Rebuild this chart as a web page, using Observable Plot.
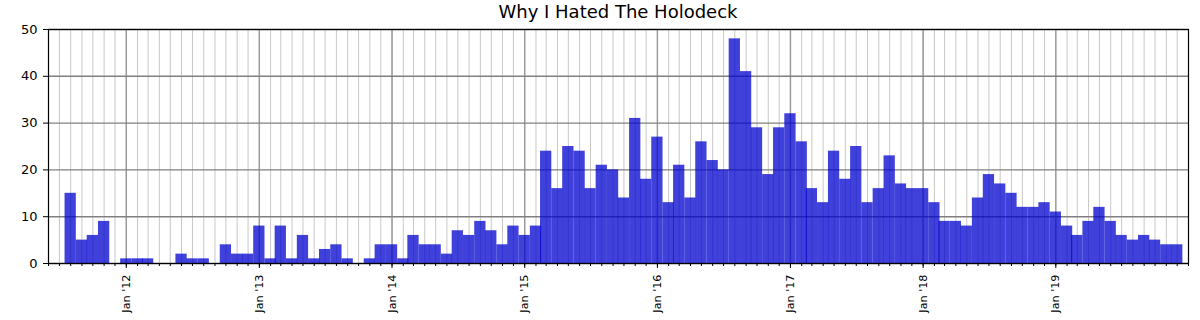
<!DOCTYPE html>
<html>
<head>
<meta charset="utf-8">
<script src="https://cdn.jsdelivr.net/npm/d3@7"></script>
<script src="https://cdn.jsdelivr.net/npm/@observablehq/plot@0.6"></script>
<style>
  html, body { margin: 0; padding: 0; background: white; }
  #wrap { position: relative; width: 1200px; height: 320px; }
  #title { position: absolute; left: 48px; width: 1140px; top: 0; height: 24px; text-align: center;
           font-family: "DejaVu Sans", sans-serif; font-size: 18px; line-height: 24px; color: black; }
  #chart svg { display: block; }
</style>
</head>
<body>
<div id="wrap">
<div id="chart"></div>
<div id="title">Why I Hated The Holodeck</div>
</div>
<script>
const months = [
  "2011-08","2011-09","2011-10","2011-11","2011-12",
  "2012-01","2012-02","2012-03","2012-04","2012-05","2012-06","2012-07","2012-08","2012-09","2012-10","2012-11","2012-12",
  "2013-01","2013-02","2013-03","2013-04","2013-05","2013-06","2013-07","2013-08","2013-09","2013-10","2013-11","2013-12",
  "2014-01","2014-02","2014-03","2014-04","2014-05","2014-06","2014-07","2014-08","2014-09","2014-10","2014-11","2014-12",
  "2015-01","2015-02","2015-03","2015-04","2015-05","2015-06","2015-07","2015-08","2015-09","2015-10","2015-11","2015-12",
  "2016-01","2016-02","2016-03","2016-04","2016-05","2016-06","2016-07","2016-08","2016-09","2016-10","2016-11","2016-12",
  "2017-01","2017-02","2017-03","2017-04","2017-05","2017-06","2017-07","2017-08","2017-09","2017-10","2017-11","2017-12",
  "2018-01","2018-02","2018-03","2018-04","2018-05","2018-06","2018-07","2018-08","2018-09","2018-10","2018-11","2018-12",
  "2019-01","2019-02","2019-03","2019-04","2019-05","2019-06","2019-07","2019-08","2019-09","2019-10","2019-11","2019-12"
];
const counts = [
  15, 5, 6, 9, 0,
  1, 1, 1, 0, 0, 2, 1, 1, 0, 4, 2, 2,
  8, 1, 8, 1, 6, 1, 3, 4, 1, 0, 1, 4,
  4, 1, 6, 4, 4, 2, 7, 6, 9, 7, 4, 8,
  6, 8, 24, 16, 25, 24, 16, 21, 20, 14, 31, 18,
  27, 13, 21, 14, 26, 22, 20, 48, 41, 29, 19, 29,
  32, 26, 16, 13, 24, 18, 25, 13, 16, 23, 17, 16,
  16, 13, 9, 9, 8, 14, 19, 17, 15, 12, 12, 13,
  11, 8, 6, 9, 12, 9, 6, 5, 6, 5, 4, 4
];
const xDomain = ["2011-06-01", "2020-01-01"];
const xTickDates = ["2012-01-01","2013-01-01","2014-01-01","2015-01-01","2016-01-01","2017-01-01","2018-01-01","2019-01-01"];
const xTickLabels = ["Jan '12","Jan '13","Jan '14","Jan '15","Jan '16","Jan '17","Jan '18","Jan '19"];
const yTicks = [0, 10, 20, 30, 40, 50];

const parseMonth = d3.utcParse("%Y-%m");
const parseDay = d3.utcParse("%Y-%m-%d");
const data = months.map((m, i) => ({date: parseMonth(m), count: counts[i]}));
const domain = xDomain.map(parseDay);
const majorDates = xTickDates.map(parseDay);
const labelOf = new Map(majorDates.map((d, i) => [+d, xTickLabels[i]]));
const minorMonths = d3.utcMonth.range(domain[0], d3.utcDay.offset(domain[1], 1));

const chart = Plot.plot({
  width: 1200,
  height: 320,
  marginLeft: 48,
  marginRight: 12,
  marginTop: 29,
  marginBottom: 57,
  style: {fontFamily: "DejaVu Sans, sans-serif", fontSize: "13px", background: "white", color: "black"},
  x: {type: "utc", domain},
  y: {domain: [0, 50]},
  marks: [
    Plot.gridX(minorMonths, {stroke: "#c8c8c8", strokeOpacity: 1, strokeWidth: 1}),
    Plot.gridX(majorDates, {stroke: "#999999", strokeOpacity: 1, strokeWidth: 1.4}),
    Plot.gridY(yTicks, {stroke: "#808080", strokeOpacity: 1, strokeWidth: 1.4}),
    Plot.rectY(data, {
      x1: d => d3.utcHour.offset(d.date, -372),
      x2: d => d3.utcHour.offset(d.date, 372),
      y: "count",
      fill: "mediumblue",
      fillOpacity: 0.75
    }),
    Plot.frame({stroke: "black", strokeWidth: 1.2}),
    Plot.axisY(yTicks, {tickSize: 5, tickPadding: 6, label: null, fontSize: 13, tickFormat: d => String(d)}),
    Plot.axisX(minorMonths, {tickSize: 3, tickFormat: () => "", label: null}),
    Plot.axisX(majorDates, {tickSize: 5, tickPadding: 6, tickRotate: -90, label: null, fontSize: 11.2,
      tickFormat: d => labelOf.get(+d)})
  ]
});
document.getElementById("chart").append(chart);
</script>
</body>
</html>
